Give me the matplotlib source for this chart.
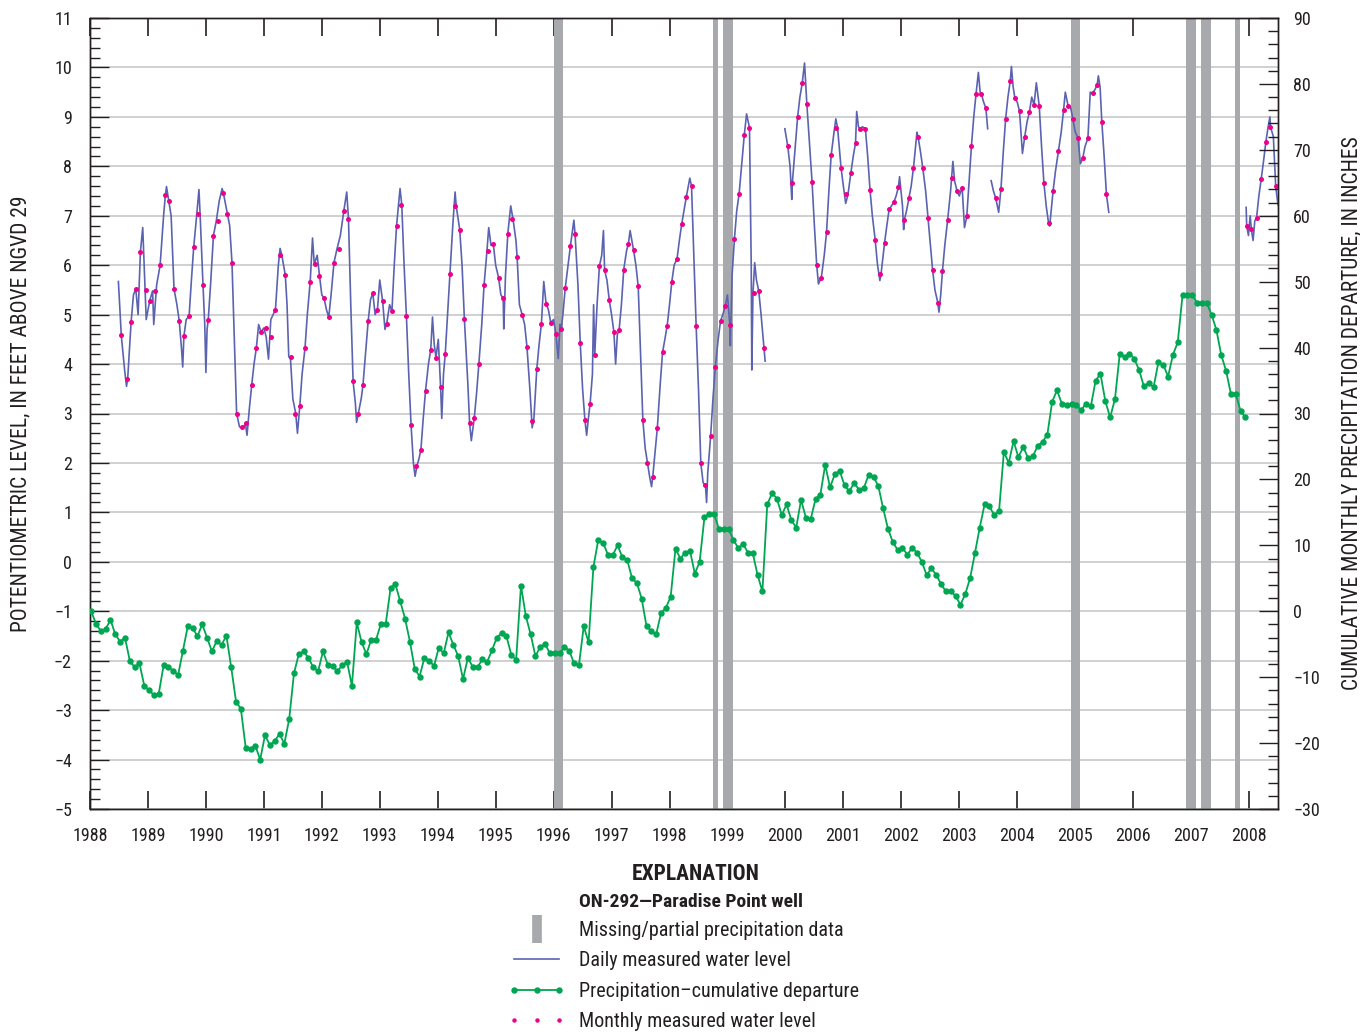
import numpy as np
import matplotlib
matplotlib.use("Agg")
import matplotlib.pyplot as plt
from matplotlib.lines import Line2D
from matplotlib.legend_handler import HandlerLine2D
from matplotlib.ticker import MultipleLocator

plt.rcParams['font.family'] = ['Roboto Condensed', 'Liberation Sans Narrow', 'Liberation Sans', 'DejaVu Sans']
plt.rcParams['axes.unicode_minus'] = True

# cumulative monthly precipitation departure (inches), Jan 1988 .. Dec 2007
precip = [
    0, -1.9, -3.0, -2.7, -1.3, -3.5, -4.6, -4.0, -7.5, -8.5,
    -7.9, -11.3, -12.0, -12.7, -12.5, -8.2, -8.5, -9.0, -9.7, -6.0,
    -2.3, -2.5, -3.8, -2.0, -4.0, -6.1, -4.5, -5.1, -3.7, -8.5,
    -13.7, -14.8, -20.7, -20.9, -20.4, -22.5, -18.8, -20.3, -19.7, -18.6,
    -20.1, -16.4, -9.4, -6.5, -6.1, -7.1, -8.5, -9.1, -6.1, -8.1,
    -8.3, -9.1, -8.2, -7.7, -11.3, -1.7, -4.7, -6.5, -4.3, -4.3,
    -1.9, -1.9, 3.5, 4.1, 1.5, -1.1, -4.6, -8.7, -9.9, -7.1,
    -7.5, -8.3, -5.5, -6.4, -3.2, -5.1, -6.8, -10.3, -7.1, -8.4,
    -8.5, -7.3, -7.7, -5.9, -4.0, -3.3, -3.8, -6.6, -7.4, 3.9,
    -0.7, -3.5, -6.8, -5.4, -5.0, -6.4, -6.4, -6.4, -5.4, -6.0,
    -7.9, -8.2, -2.3, -4.7, 6.7, 10.8, 10.4, 8.6, 8.5, 10.0,
    8.2, 7.8, 5.0, 4.3, 1.9, -2.3, -3.0, -3.5, -0.3, 0.5,
    2.2, 9.5, 8.0, 8.9, 9.2, 5.7, 7.5, 14.3, 14.8, 14.7,
    12.5, 12.5, 12.5, 10.8, 9.6, 10.2, 8.9, 8.8, 5.5, 3.0,
    16.2, 17.9, 17.1, 14.6, 16.2, 13.8, 12.7, 16.9, 14.2, 14.0,
    17.0, 17.7, 22.2, 18.8, 20.8, 21.3, 19.1, 18.2, 19.5, 18.4,
    18.7, 20.7, 20.4, 19.0, 15.6, 12.5, 10.5, 9.3, 9.6, 8.6,
    9.6, 8.9, 7.5, 5.5, 6.5, 5.5, 4.1, 3.0, 3.1, 2.3,
    1.0, 2.6, 5.0, 8.8, 12.7, 16.2, 15.9, 14.6, 15.2, 24.2,
    22.5, 25.8, 23.4, 24.9, 23.3, 23.5, 25.1, 25.7, 26.8, 31.8,
    33.5, 31.5, 31.3, 31.4, 31.3, 30.5, 31.5, 31.1, 35.0, 36.0,
    31.9, 29.4, 32.2, 39.1, 38.6, 39.1, 38.3, 36.6, 34.1, 34.6,
    34.0, 37.8, 37.4, 35.6, 38.9, 40.8, 48.0, 48.0, 48.0, 46.8,
    46.8, 46.8, 45.0, 42.7, 38.9, 36.5, 33.0, 33.0, 30.4, 29.4,
]
precip_t = 1988.02 + np.arange(len(precip)) / 12.0

# daily water level (feet), nan = no record
daily_t = [
    1988.49, 1988.54, 1988.60, 1988.63, 1988.65, 1988.71, 1988.75, 1988.79, 1988.83, 1988.87,
    1988.91, 1988.94, 1988.95, 1988.97, 1989.03, 1989.08, 1989.10, 1989.15, 1989.21, 1989.27,
    1989.30, 1989.32, 1989.36, 1989.40, 1989.45, 1989.50, 1989.54, 1989.58, 1989.60, 1989.62,
    1989.66, 1989.71, 1989.75, 1989.79, 1989.84, 1989.88, 1989.90, 1989.95, 1989.98, 1990.00,
    1990.02, 1990.04, 1990.08, 1990.13, 1990.18, 1990.23, 1990.28, 1990.30, 1990.37, 1990.41,
    1990.45, 1990.49, 1990.53, 1990.58, 1990.64, 1990.68, 1990.71, 1990.75, 1990.79, 1990.83,
    1990.87, 1990.91, 1990.95, 1991.00, 1991.04, 1991.08, 1991.12, 1991.20, 1991.25, 1991.28,
    1991.31, 1991.37, 1991.40, 1991.43, 1991.46, 1991.50, 1991.55, 1991.58, 1991.62, 1991.66,
    1991.71, 1991.75, 1991.80, 1991.84, 1991.87, 1991.92, 1991.96, 1992.00, 1992.04, 1992.08,
    1992.12, 1992.16, 1992.21, 1992.26, 1992.32, 1992.38, 1992.43, 1992.46, 1992.50, 1992.54,
    1992.58, 1992.60, 1992.63, 1992.68, 1992.71, 1992.76, 1992.80, 1992.84, 1992.88, 1992.92,
    1992.96, 1993.00, 1993.05, 1993.09, 1993.12, 1993.17, 1993.21, 1993.25, 1993.29, 1993.35,
    1993.38, 1993.42, 1993.46, 1993.50, 1993.54, 1993.58, 1993.61, 1993.64, 1993.68, 1993.71,
    1993.75, 1993.79, 1993.84, 1993.88, 1993.91, 1993.94, 1993.97, 1994.01, 1994.05, 1994.07,
    1994.10, 1994.13, 1994.17, 1994.21, 1994.26, 1994.30, 1994.32, 1994.38, 1994.42, 1994.46,
    1994.52, 1994.55, 1994.58, 1994.63, 1994.67, 1994.71, 1994.76, 1994.80, 1994.85, 1994.88,
    1994.92, 1994.96, 1995.00, 1995.05, 1995.09, 1995.13, 1995.14, 1995.17, 1995.21, 1995.26,
    1995.30, 1995.35, 1995.37, 1995.41, 1995.46, 1995.50, 1995.54, 1995.59, 1995.63, 1995.66,
    1995.71, 1995.75, 1995.79, 1995.83, 1995.87, 1995.91, 1995.95, 1996.00, 1996.04, 1996.08,
    1996.11, 1996.13, 1996.16, 1996.20, 1996.25, 1996.29, 1996.35, 1996.37, 1996.42, 1996.46,
    1996.50, 1996.54, 1996.57, 1996.60, 1996.63, 1996.67, 1996.69, 1996.71, 1996.75, 1996.79,
    1996.83, 1996.86, 1996.88, 1996.92, 1996.96, 1997.00, 1997.04, 1997.07, 1997.10, 1997.13,
    1997.17, 1997.21, 1997.26, 1997.29, 1997.32, 1997.38, 1997.42, 1997.46, 1997.50, 1997.54,
    1997.58, 1997.62, 1997.66, 1997.69, 1997.71, 1997.75, 1997.79, 1997.84, 1997.88, 1997.92,
    1997.96, 1998.00, 1998.04, 1998.08, 1998.13, 1998.17, 1998.21, 1998.25, 1998.29, 1998.35,
    1998.38, 1998.42, 1998.46, 1998.50, 1998.54, 1998.58, 1998.62, 1998.64, 1998.66, 1998.71,
    1998.75, 1998.79, 1998.84, 1998.88, 1998.92, 1998.96, 1999.00, 1999.04, 1999.05, 1999.08,
    1999.12, 1999.16, 1999.20, 1999.25, 1999.29, 1999.33, 1999.38, 1999.41, 1999.42, 1999.44,
    1999.47, 1999.50, 1999.54, 1999.58, 1999.63, 1999.65, 1999.80,
    1999.99, 2000.04, 2000.08, 2000.11, 2000.12, 2000.17, 2000.21, 2000.25, 2000.29, 2000.33,
    2000.37, 2000.42, 2000.46, 2000.50, 2000.54, 2000.57, 2000.62, 2000.67, 2000.71, 2000.75,
    2000.79, 2000.84, 2000.87, 2000.90, 2000.96, 2001.00, 2001.04, 2001.08, 2001.13, 2001.17,
    2001.21, 2001.23, 2001.26, 2001.29, 2001.33, 2001.38, 2001.42, 2001.46, 2001.50, 2001.55,
    2001.59, 2001.63, 2001.65, 2001.71, 2001.75, 2001.79, 2001.83, 2001.87, 2001.91, 2001.95,
    2001.97, 2002.02, 2002.04, 2002.05, 2002.09, 2002.13, 2002.17, 2002.21, 2002.27, 2002.29,
    2002.33, 2002.37, 2002.42, 2002.46, 2002.50, 2002.54, 2002.58, 2002.63, 2002.65, 2002.68,
    2002.71, 2002.75, 2002.80, 2002.85, 2002.89, 2002.92, 2002.96, 2003.00, 2003.05, 2003.09,
    2003.13, 2003.17, 2003.21, 2003.25, 2003.29, 2003.33, 2003.36, 2003.38, 2003.42, 2003.46,
    2003.49, 2003.52,
    2003.55, 2003.59, 2003.63, 2003.68, 2003.72, 2003.76, 2003.80, 2003.84, 2003.88, 2003.90,
    2003.93, 2003.96, 2004.00, 2004.04, 2004.09, 2004.13, 2004.17, 2004.21, 2004.25, 2004.29,
    2004.33, 2004.38, 2004.42, 2004.46, 2004.50, 2004.54, 2004.56, 2004.62, 2004.66, 2004.71,
    2004.76, 2004.80, 2004.83, 2004.88, 2004.92, 2004.96, 2005.00, 2005.05, 2005.09, 2005.13,
    2005.17, 2005.22, 2005.26, 2005.30, 2005.34, 2005.38, 2005.40, 2005.43, 2005.46, 2005.50,
    2005.54, 2005.58, 2006.50,
    2007.95, 2007.96, 2007.99, 2008.02, 2008.04, 2008.07, 2008.10, 2008.13, 2008.17, 2008.21,
    2008.25, 2008.29, 2008.33, 2008.36, 2008.37, 2008.42, 2008.46, 2008.50,
]
daily_v = [
    5.67, 4.58, 3.85, 3.55, 3.70, 4.86, 5.40, 5.52, 5.00, 6.27,
    6.76, 5.80, 5.50, 4.90, 5.28, 5.48, 4.80, 5.60, 6.00, 7.00,
    7.41, 7.59, 7.30, 7.00, 5.52, 5.20, 4.87, 4.30, 3.94, 4.56,
    4.90, 4.97, 5.70, 6.37, 7.00, 7.53, 7.03, 5.60, 4.80, 3.83,
    4.70, 4.89, 5.60, 6.60, 6.90, 7.30, 7.55, 7.47, 7.04, 6.80,
    6.05, 4.50, 3.00, 2.73, 2.70, 2.80, 2.56, 3.10, 3.57, 4.00,
    4.32, 4.80, 4.65, 4.73, 4.55, 4.10, 4.90, 5.10, 6.00, 6.34,
    6.20, 5.80, 5.20, 4.15, 4.10, 3.30, 3.00, 2.60, 3.15, 3.80,
    4.32, 5.00, 5.67, 6.55, 6.02, 6.20, 5.79, 5.40, 5.33, 5.10,
    4.95, 5.40, 6.05, 6.32, 6.60, 7.10, 7.48, 6.94, 5.20, 3.65,
    3.20, 2.82, 3.00, 3.30, 3.57, 4.30, 4.87, 5.30, 5.44, 5.00,
    5.10, 5.70, 5.27, 4.70, 4.82, 5.20, 5.07, 6.00, 6.80, 7.55,
    7.22, 6.00, 4.97, 3.80, 2.77, 2.00, 1.73, 1.93, 2.10, 2.27,
    2.90, 3.46, 4.00, 4.29, 4.95, 4.40, 4.13, 4.50, 3.53, 2.90,
    3.80, 4.20, 5.00, 5.82, 6.80, 7.48, 7.19, 6.72, 6.00, 4.92,
    3.60, 2.81, 2.45, 2.90, 3.40, 4.00, 4.80, 5.60, 6.29, 6.76,
    6.40, 6.42, 6.00, 5.75, 5.40, 5.33, 4.71, 5.80, 6.64, 7.20,
    6.93, 6.50, 6.17, 5.20, 4.99, 4.80, 4.35, 3.50, 2.71, 2.90,
    3.90, 4.40, 4.82, 5.67, 5.22, 5.10, 4.84, 4.90, 4.60, 4.11,
    4.80, 4.70, 5.00, 5.53, 6.00, 6.39, 6.91, 6.63, 5.60, 4.42,
    3.50, 2.87, 2.56, 2.90, 3.20, 3.80, 5.20, 4.18, 5.20, 5.98,
    6.20, 6.70, 5.90, 5.70, 5.30, 5.00, 4.65, 4.00, 4.60, 4.68,
    5.20, 5.91, 6.30, 6.43, 6.70, 6.30, 6.00, 5.57, 4.20, 2.87,
    2.30, 2.00, 1.70, 1.52, 1.71, 2.20, 2.71, 3.60, 4.24, 4.50,
    4.78, 5.20, 5.67, 6.00, 6.13, 6.50, 6.83, 7.10, 7.38, 7.76,
    7.60, 6.20, 4.76, 3.50, 2.00, 1.60, 1.55, 1.20, 1.80, 2.55,
    3.30, 3.94, 4.50, 4.87, 5.00, 5.17, 5.40, 4.80, 4.37, 5.80,
    6.53, 7.10, 7.43, 8.10, 8.63, 9.06, 8.78, 6.00, 3.88, 5.43,
    6.05, 5.70, 5.48, 5.00, 4.32, 4.06, np.nan,
    8.76, 8.41, 8.00, 7.33, 7.67, 8.40, 8.99, 9.40, 9.68, 10.09,
    9.26, 8.40, 7.68, 6.80, 6.00, 5.62, 5.75, 6.20, 6.67, 7.50,
    8.23, 8.70, 8.96, 8.78, 7.97, 7.60, 7.25, 7.43, 7.87, 8.20,
    8.47, 9.11, 8.80, 8.76, 8.80, 8.76, 8.20, 7.52, 7.00, 6.50,
    6.00, 5.69, 5.82, 6.44, 6.80, 7.13, 7.20, 7.27, 7.40, 7.58,
    7.79, 7.20, 6.72, 6.91, 7.10, 7.35, 7.60, 7.97, 8.69, 8.59,
    8.30, 7.97, 7.50, 6.96, 6.40, 5.90, 5.50, 5.24, 5.05, 5.40,
    5.88, 6.40, 6.92, 7.50, 8.10, 7.70, 7.51, 7.40, 7.57, 6.76,
    6.99, 7.70, 8.41, 9.00, 9.47, 9.90, 9.50, 9.47, 9.30, 9.17,
    8.76, np.nan,
    7.71, 7.50, 7.35, 7.07, 7.55, 8.30, 8.96, 9.40, 9.73, 10.02,
    9.60, 9.38, 9.30, 9.11, 8.26, 8.60, 8.90, 9.09, 9.40, 9.24,
    9.69, 9.22, 8.40, 7.67, 7.20, 6.86, 6.79, 7.51, 7.90, 8.30,
    8.70, 9.14, 9.50, 9.21, 9.20, 8.96, 8.70, 8.57, 8.05, 8.16,
    8.40, 8.57, 9.50, 9.48, 9.55, 9.65, 9.83, 9.60, 8.90, 8.20,
    7.43, 7.07, np.nan,
    7.17, 6.79, 6.60, 7.00, 6.73, 6.50, 6.90, 6.96, 7.40, 7.74,
    8.10, 8.49, 8.80, 9.00, 8.80, 8.60, 7.60, 7.22,
]

# monthly measured water level (feet)
monthly_t = [
    1988.54, 1988.63, 1988.71, 1988.79, 1988.87, 1988.96, 1989.04, 1989.12, 1989.21, 1989.29,
    1989.36, 1989.45, 1989.54, 1989.62, 1989.71, 1989.79, 1989.87, 1989.95, 1990.04, 1990.13,
    1990.21, 1990.29, 1990.37, 1990.45, 1990.53, 1990.62, 1990.70, 1990.79, 1990.87, 1990.95,
    1991.04, 1991.12, 1991.20, 1991.28, 1991.37, 1991.46, 1991.54, 1991.62, 1991.71, 1991.80,
    1991.88, 1991.96, 1992.04, 1992.12, 1992.21, 1992.29, 1992.38, 1992.46, 1992.54, 1992.63,
    1992.71, 1992.80, 1992.88, 1992.96, 1993.05, 1993.12, 1993.21, 1993.29, 1993.37, 1993.46,
    1993.54, 1993.63, 1993.71, 1993.79, 1993.88, 1993.97, 1994.05, 1994.13, 1994.21, 1994.30,
    1994.38, 1994.46, 1994.55, 1994.63, 1994.71, 1994.80, 1994.87, 1994.96, 1995.05, 1995.13,
    1995.21, 1995.29, 1995.37, 1995.46, 1995.54, 1995.63, 1995.71, 1995.79, 1995.87, 1995.95,
    1996.04, 1996.13, 1996.20, 1996.29, 1996.37, 1996.46, 1996.54, 1996.63, 1996.71, 1996.79,
    1996.88, 1996.96, 1997.04, 1997.13, 1997.21, 1997.29, 1997.38, 1997.46, 1997.54, 1997.62,
    1997.71, 1997.79, 1997.88, 1997.96, 1998.04, 1998.13, 1998.21, 1998.29, 1998.38, 1998.46,
    1998.54, 1998.62, 1998.71, 1998.79, 1998.88, 1998.96, 1999.04, 1999.12, 1999.20, 1999.29,
    1999.38, 1999.45, 1999.54, 1999.63, 2000.04, 2000.12, 2000.21, 2000.29, 2000.37, 2000.46,
    2000.54, 2000.62, 2000.71, 2000.79, 2000.87, 2000.96, 2001.04, 2001.13, 2001.21, 2001.29,
    2001.38, 2001.46, 2001.55, 2001.63, 2001.71, 2001.79, 2001.87, 2001.95, 2002.05, 2002.13,
    2002.21, 2002.29, 2002.37, 2002.46, 2002.54, 2002.63, 2002.71, 2002.80, 2002.88, 2002.96,
    2003.05, 2003.13, 2003.21, 2003.29, 2003.38, 2003.46, 2003.63, 2003.72, 2003.80, 2003.88,
    2003.96, 2004.04, 2004.13, 2004.21, 2004.29, 2004.38, 2004.46, 2004.54, 2004.62, 2004.71,
    2004.80, 2004.88, 2004.96, 2005.05, 2005.13, 2005.22, 2005.30, 2005.38, 2005.46, 2005.54,
    2007.96, 2008.04, 2008.13, 2008.21, 2008.29, 2008.37, 2008.46,
]
monthly_v = [
    4.58, 3.70, 4.86, 5.52, 6.27, 5.50, 5.28, 5.48, 6.00, 7.41,
    7.30, 5.52, 4.87, 4.56, 4.97, 6.37, 7.03, 5.60, 4.89, 6.60,
    6.90, 7.47, 7.04, 6.05, 3.00, 2.73, 2.80, 3.57, 4.32, 4.65,
    4.73, 4.55, 5.10, 6.20, 5.80, 4.15, 3.00, 3.15, 4.32, 5.67,
    6.02, 5.79, 5.33, 4.95, 6.05, 6.32, 7.10, 6.94, 3.65, 3.00,
    3.57, 4.87, 5.44, 5.10, 5.27, 4.82, 5.07, 6.80, 7.22, 4.97,
    2.77, 1.93, 2.27, 3.46, 4.29, 4.13, 3.53, 4.20, 5.82, 7.19,
    6.72, 4.92, 2.81, 2.90, 4.00, 5.60, 6.29, 6.42, 5.75, 5.33,
    6.64, 6.93, 6.17, 4.99, 4.35, 2.84, 3.90, 4.82, 5.22, 4.84,
    4.60, 4.70, 5.53, 6.39, 6.63, 4.42, 2.87, 3.20, 4.18, 5.98,
    5.90, 5.30, 4.65, 4.68, 5.91, 6.43, 6.30, 5.57, 2.87, 2.00,
    1.71, 2.71, 4.24, 4.78, 5.67, 6.13, 6.83, 7.38, 7.60, 4.76,
    2.00, 1.55, 2.55, 3.94, 4.87, 5.17, 4.80, 6.53, 7.43, 8.63,
    8.78, 5.43, 5.48, 4.32, 8.41, 7.67, 8.99, 9.68, 9.26, 7.68,
    6.00, 5.75, 6.67, 8.23, 8.78, 7.97, 7.43, 7.87, 8.47, 8.76,
    8.76, 7.52, 6.50, 5.82, 6.44, 7.13, 7.27, 7.58, 6.91, 7.35,
    7.97, 8.59, 7.97, 6.96, 5.90, 5.24, 5.88, 6.92, 7.77, 7.51,
    7.57, 6.99, 8.41, 9.47, 9.47, 9.17, 7.35, 7.55, 8.96, 9.73,
    9.38, 9.11, 8.60, 9.09, 9.24, 9.22, 7.67, 6.86, 7.51, 8.30,
    9.14, 9.21, 8.96, 8.57, 8.16, 8.57, 9.48, 9.65, 8.90, 7.43,
    6.79, 6.73, 6.96, 7.74, 8.49, 8.80, 7.60,
]

# missing / partial precipitation periods
gap_start = [1996.00, 1998.755, 1998.93, 2004.92, 2006.91, 2007.17, 2007.76]
gap_end = [1996.17, 1998.835, 1999.09, 2005.08, 2007.08, 2007.34, 2007.85]

years = list(range(1988, 2009))

BLUE = '#5b63b0'
PINK = '#ec008c'
GREEN = '#00a651'
GRAY = '#a7a9ac'
INK = '#231f20'

fig = plt.figure(figsize=(13.6, 10.33), dpi=100)
ax = fig.add_axes([90 / 1360, 1 - 809 / 1033, 1188 / 1360, 791 / 1033])
ax2 = ax.twinx()

for s, e in zip(gap_start, gap_end):
    ax.axvspan(s, e, color=GRAY, lw=0, zorder=1)

ax.plot(daily_t, daily_v, color=BLUE, lw=1.2, zorder=3)
ax.plot(monthly_t, monthly_v, ls='none', marker='o', ms=3.6, color=PINK, mec='none', zorder=4)
ax2.plot(precip_t, precip, color=GREEN, lw=1.3, marker='o', ms=4.6, mec='none', zorder=3)

ax.set_xlim(1988, 2008.5)
ax.set_ylim(-5, 11)
ax2.set_ylim(-30, 90)
ax.set_xticks(years)
ax.set_xticklabels([str(y) for y in years])
ax.yaxis.set_major_locator(MultipleLocator(1))
ax.yaxis.set_minor_locator(MultipleLocator(0.2))
ax2.yaxis.set_major_locator(MultipleLocator(10))
ax2.yaxis.set_minor_locator(MultipleLocator(2))
ax.grid(axis='y', color='#c8c8c8', lw=1.2, zorder=0)
ax.set_axisbelow(True)

ax.tick_params(axis='x', which='major', direction='in', length=13, width=1.2,
               top=True, labelsize=13, pad=13, color=INK, labelcolor=INK)
ax.tick_params(axis='y', which='major', direction='in', length=14, width=1.0,
               labelsize=13, pad=13, color=INK, labelcolor=INK)
ax.tick_params(axis='y', which='minor', direction='in', length=7, width=1.0, color=INK)
ax2.tick_params(axis='y', which='major', direction='in', length=14, width=1.0,
                labelsize=13, pad=11, color=INK, labelcolor=INK)
ax2.tick_params(axis='y', which='minor', direction='in', length=7, width=1.0, color=INK)
for a in (ax, ax2):
    for sp in a.spines.values():
        sp.set_color(INK)
        sp.set_linewidth(1.0)

ax.set_ylabel('POTENTIOMETRIC LEVEL, IN FEET ABOVE NGVD 29', fontsize=15.5, color=INK)
ax2.set_ylabel('CUMULATIVE MONTHLY PRECIPITATION DEPARTURE, IN INCHES', fontsize=15.5,
               rotation=90, color=INK)
ax.yaxis.set_label_coords(-0.0497, 0.5)
ax2.yaxis.set_label_coords(1.0530, 0.5)

# explanation
fig.text(696 / 1360, 1 - 874 / 1033, 'EXPLANATION', ha='center', va='center',
         fontsize=15.5, fontweight='bold', color=INK)
fig.text(691 / 1360, 1 - 902 / 1033, 'ON-292\u2014Paradise Point well', ha='center',
         va='center', fontsize=14, fontweight='bold', color=INK)

h_gap = Line2D([], [], color=GRAY, lw=0, marker='|', ms=20, mew=7)
h_daily = Line2D([], [], color=BLUE, lw=1.2)
h_prec = Line2D([], [], color=GREEN, lw=1.3, marker='o', ms=4.6, mec='none')
h_mon = Line2D([], [], ls='none', marker='o', ms=3.2, color=PINK, mec='none')
leg = fig.legend([h_gap, h_daily, h_prec, h_mon],
                 ['Missing/partial precipitation data', 'Daily measured water level',
                  'Precipitation\u2013cumulative departure', 'Monthly measured water level'],
                 handler_map={h_gap: HandlerLine2D(numpoints=1)},
                 loc='upper left', bbox_to_anchor=(508 / 1360, 1 - 921 / 1033),
                 frameon=False, fontsize=14.5, numpoints=3, handlelength=2.85,
                 handletextpad=0.7, labelspacing=0.56, borderpad=0, borderaxespad=0)
for t in leg.get_texts():
    t.set_color(INK)

fig.savefig('out.png', dpi=100)
